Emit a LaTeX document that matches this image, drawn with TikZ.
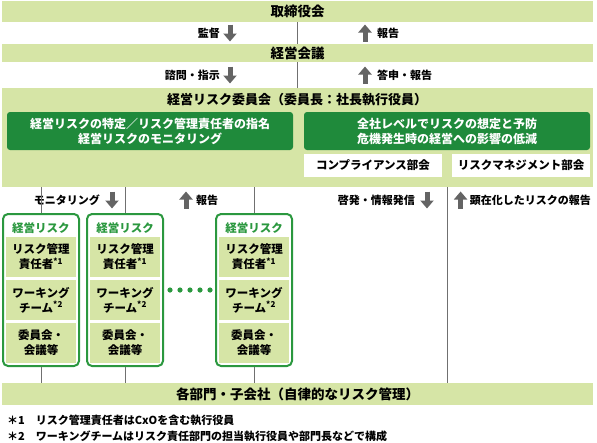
\documentclass[tikz,border=0pt]{standalone}
\usepackage{fontspec}
\setmainfont{Noto Sans CJK JP}
\usetikzlibrary{arrows.meta}
\definecolor{bandGreen}{RGB}{214,229,166}
\definecolor{boxGreen}{RGB}{31,138,59}
\definecolor{unitGreen}{RGB}{43,152,63}
\definecolor{arrowGrey}{RGB}{100,100,100}
\definecolor{lineGrey}{RGB}{112,112,112}
\newcommand{\riskUnit}[2]{%%
  %% One unit column: #1 is its name, #2 the x of its centre.
  \node[unitStyle] (#1) at (#2,290) {};
  \node[unitHeadStyle] (#1head) at (#2,228) {経営リスク};
  \node[cellStyle] (#1mgr) at (#2,257) {リスク管理\\責任者\textsuperscript{*1}};
  \node[cellStyle] (#1wg) at (#2,300) {ワーキング\\チーム\textsuperscript{*2}};
  \node[cellStyle] (#1cm) at (#2,343) {委員会・\\会議等};
  %% Lines from the committee band and on to the departments.
  \draw[lineStyle] (#1.north |- rmc.south) -- (#1.north);
  \draw[lineStyle] (#1.south) -- (#1.south |- dept.north);
}

\begin{document}
\begin{tikzpicture}[%%
  x=1pt,y=-1pt,%%
  bandStyle/.style={fill=bandGreen,minimum width=591pt,inner sep=0pt,%%
    font=\bfseries\fontsize{13.5}{15}\selectfont},%%
  darkStyle/.style={fill=boxGreen,rounded corners=3pt,text=white,align=center,%%
    minimum width=286pt,minimum height=38pt,inner sep=0pt,%%
    font=\bfseries\fontsize{12}{15}\selectfont},%%
  whiteStyle/.style={fill=white,minimum width=138pt,minimum height=23pt,%%
    inner sep=0pt,font=\bfseries\fontsize{11.5}{13}\selectfont},%%
  unitStyle/.style={draw=unitGreen,line width=2pt,rounded corners=5pt,fill=white,%%
    minimum width=76pt,minimum height=152pt,inner sep=0pt},%%
  unitHeadStyle/.style={text=unitGreen,inner sep=0pt,%%
    font=\bfseries\fontsize{11.5}{13}\selectfont},%%
  cellStyle/.style={fill=bandGreen,minimum width=70pt,minimum height=40pt,%%
    inner sep=0pt,align=center,font=\bfseries\fontsize{11.5}{15}\selectfont},%%
  labelStyle/.style={inner sep=0pt,font=\bfseries\fontsize{11}{13}\selectfont},%%
  noteStyle/.style={inner sep=0pt,anchor=west,font=\bfseries\fontsize{11}{13}\selectfont},%%
  lineStyle/.style={-,lineGrey,line width=1pt},%%
  arrowStyle/.style={arrowGrey,line width=5pt,-{Triangle[width=13pt,length=8pt]}}%%
]
\useasboundingbox (0,0) rectangle (597,442);
%%
%%
\pgfmathsetmacro{\xmid}{297.5} %% Centre of the bands.
\pgfmathsetmacro{\xleft}{220}  %% Right edge of the left labels.
\pgfmathsetmacro{\xright}{377} %% Left edge of the right labels.
%%
%% The bands.
\node[bandStyle,minimum height=21pt] (board) at (\xmid,11.5) {取締役会};
\node[bandStyle,minimum height=18pt] (mgmt) at (\xmid,53) {経営会議};
\node[bandStyle,minimum height=99pt] (rmc) at (\xmid,137.5) {};
\node[bandStyle,minimum height=22pt] (dept) at (\xmid,394) {各部門・子会社（自律的なリスク管理）};
\node[labelStyle,font=\bfseries\fontsize{13}{15}\selectfont] (rmcTitle) at (297,100)
  {経営リスク委員会（委員長：社長執行役員）};
%%
%% Inside the committee band.
\node[darkStyle] (roleLeft) at (150,131)
  {経営リスクの特定／リスク管理責任者の指名\\経営リスクのモニタリング};
\node[darkStyle] (roleRight) at (447,131)
  {全社レベルでリスクの想定と予防\\危機発生時の経営への影響の低減};
\node[whiteStyle] (compliance) at (373,165.5) {コンプライアンス部会};
\node[whiteStyle] (riskMgmt) at (521,165.5) {リスクマネジメント部会};
%%
%% Centre lines between the bands.
\draw[lineStyle] (board.south) -- (mgmt.north);
\draw[lineStyle] (mgmt.south) -- (rmc.north);
\draw[lineStyle] (roleRight.south |- rmc.south) -- (roleRight.south |- dept.north);
%%
%% Labels with their arrows.
\node[labelStyle,anchor=east] (audit) at (\xleft,33) {監督};
\draw[arrowStyle] ([xshift=10pt,yshift=8.5pt]audit.east) -- ++(0,-17pt);
\node[labelStyle,anchor=west] (report) at (\xright,33) {報告};
\draw[arrowStyle] ([xshift=-12pt,yshift=-8.5pt]report.west) -- ++(0,17pt);
\node[labelStyle,anchor=east] (consult) at (\xleft,75) {諮問・指示};
\draw[arrowStyle] ([xshift=10pt,yshift=8.5pt]consult.east) -- ++(0,-17pt);
\node[labelStyle,anchor=west] (answer) at (\xright,75) {答申・報告};
\draw[arrowStyle] ([xshift=-12pt,yshift=-8.5pt]answer.west) -- ++(0,17pt);
\node[labelStyle,anchor=east] (monitor) at (100,200) {モニタリング};
\draw[arrowStyle] ([xshift=12pt,yshift=8.5pt]monitor.east) -- ++(0,-17pt);
\node[labelStyle,anchor=west] (unitReport) at (196,200) {報告};
\draw[arrowStyle] ([xshift=-10pt,yshift=-8.5pt]unitReport.west) -- ++(0,17pt);
\node[labelStyle,anchor=east] (inform) at (415,200) {啓発・情報発信};
\draw[arrowStyle] ([xshift=12pt,yshift=8.5pt]inform.east) -- ++(0,-17pt);
\node[labelStyle,anchor=east] (incident) at (591,200) {顕在化したリスクの報告};
\draw[arrowStyle] ([xshift=-9pt,yshift=-8.5pt]incident.west) -- ++(0,17pt);
%%
%% The unit columns.
\riskUnit{unitA}{41}
\riskUnit{unitB}{125}
\riskUnit{unitC}{254}
\foreach \i in {0,...,4}
  \fill[unitGreen] (170+\i*10,290) circle (2.6pt);
%%
%% Notes.
\node[noteStyle] (noteA) at (7,420) {＊1　リスク管理責任者はCxOを含む執行役員};
\node[noteStyle] (noteB) at (7,436) {＊2　ワーキングチームはリスク責任部門の担当執行役員や部門長などで構成};
\end{tikzpicture}
\end{document}
